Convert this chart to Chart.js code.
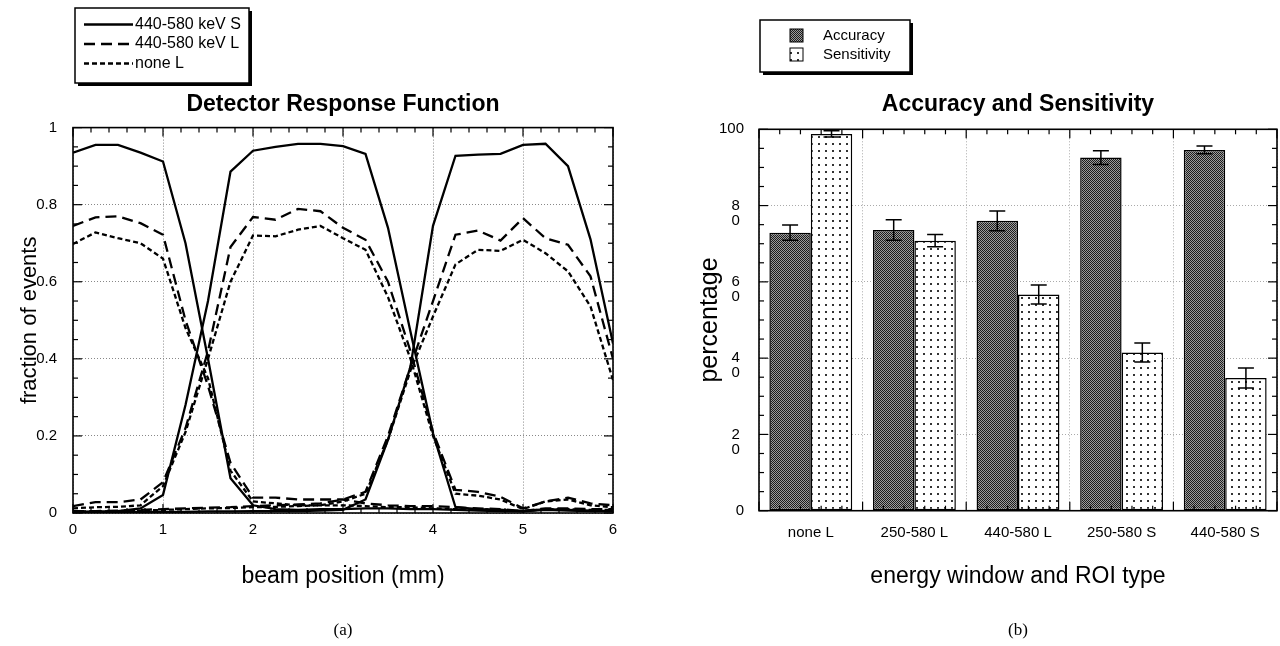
<!DOCTYPE html>
<html>
<head>
<meta charset="utf-8">
<script src="https://cdn.jsdelivr.net/npm/chart.js@4.4.0/dist/chart.umd.min.js"></script>
<style>
  html, body { margin: 0; padding: 0; background: #fff; }
  #wrap { position: relative; width: 1280px; height: 646px; }
  canvas { position: absolute; top: 0; }
  #drf { left: 0; }
  #acc { left: 640px; }
</style>
</head>
<body>
<div id="wrap">
  <canvas id="drf" width="640" height="646"></canvas>
  <canvas id="acc" width="640" height="646"></canvas>
</div>
<script>
// ---- (a) detector response, one curve per crystal ----
const beamPos = [0, 0.25, 0.5, 0.75, 1, 1.25, 1.5, 1.75, 2, 2.25, 2.5, 2.75, 3, 3.25, 3.5, 3.75, 4, 4.25, 4.5, 4.75, 5, 5.25, 5.5, 5.75, 6]

const s440_1 = [0.935, 0.955, 0.955, 0.935, 0.912, 0.70, 0.40, 0.09, 0.02, 0.01, 0.008, 0.01, 0.01, 0.012, 0.012, 0.01, 0.01, 0.008, 0.006, 0.005, 0.004, 0.008, 0.006, 0.005, 0.005]
const s440_2 = [0.003, 0.004, 0.005, 0.012, 0.047, 0.28, 0.55, 0.886, 0.94, 0.95, 0.958, 0.958, 0.952, 0.932, 0.74, 0.47, 0.207, 0.015, 0.01, 0.008, 0.005, 0.01, 0.008, 0.006, 0.005]
const s440_3 = [0.002, 0.002, 0.003, 0.003, 0.003, 0.003, 0.004, 0.004, 0.005, 0.005, 0.005, 0.006, 0.008, 0.035, 0.19, 0.38, 0.745, 0.927, 0.93, 0.932, 0.955, 0.958, 0.90, 0.71, 0.44]

const l440_1 = [0.745, 0.767, 0.77, 0.752, 0.722, 0.50, 0.33, 0.13, 0.04, 0.04, 0.035, 0.035, 0.035, 0.025, 0.02, 0.018, 0.018, 0.015, 0.012, 0.01, 0.005, 0.012, 0.012, 0.01, 0.01]
const l440_2 = [0.018, 0.028, 0.028, 0.035, 0.08, 0.22, 0.42, 0.69, 0.768, 0.761, 0.789, 0.783, 0.74, 0.709, 0.60, 0.42, 0.21, 0.06, 0.055, 0.042, 0.012, 0.03, 0.04, 0.025, 0.02]
const l440_3 = [0.005, 0.005, 0.006, 0.008, 0.01, 0.012, 0.014, 0.015, 0.018, 0.02, 0.022, 0.025, 0.035, 0.055, 0.20, 0.38, 0.55, 0.722, 0.733, 0.707, 0.765, 0.713, 0.696, 0.614, 0.40]

const noneL_1 = [0.698, 0.728, 0.713, 0.70, 0.66, 0.48, 0.35, 0.11, 0.03, 0.025, 0.02, 0.02, 0.02, 0.018, 0.015, 0.015, 0.012, 0.01, 0.01, 0.008, 0.005, 0.01, 0.01, 0.008, 0.008]
const noneL_2 = [0.012, 0.015, 0.016, 0.02, 0.07, 0.21, 0.40, 0.60, 0.72, 0.718, 0.735, 0.745, 0.713, 0.683, 0.56, 0.40, 0.20, 0.05, 0.045, 0.035, 0.01, 0.03, 0.035, 0.02, 0.015]
const noneL_3 = [0.004, 0.004, 0.005, 0.006, 0.008, 0.01, 0.012, 0.013, 0.015, 0.016, 0.018, 0.02, 0.03, 0.05, 0.19, 0.37, 0.51, 0.645, 0.683, 0.68, 0.709, 0.674, 0.627, 0.536, 0.345]

// ---- (b) accuracy / sensitivity per energy window + ROI ----
const roiTypes = ['none L', '250-580 L', '440-580 L', '250-580 S', '440-580 S']
const accuracy = [72.9, 73.6, 76.0, 92.6, 94.6]
const accuracyErr = [2.0, 2.7, 2.6, 1.8, 1.0]
const sensitivity = [98.8, 70.8, 56.7, 41.5, 34.8]
const sensitivityErr = [0.8, 1.6, 2.5, 2.5, 2.6]

Chart.defaults.font.family = '"Liberation Sans", Arial, sans-serif'
Chart.defaults.color = '#000'

// inward tick marks on all four sides + the plot frame (gnuplot look)
const frameTicks = {
  id: 'frameTicks',
  afterDraw(chart, args, opts) {
    const { ctx, chartArea: a, scales } = chart
    const line = (x1, y1, x2, y2) => { ctx.beginPath(); ctx.moveTo(x1, y1); ctx.lineTo(x2, y2); ctx.stroke() }
    ctx.save()
    ctx.strokeStyle = '#000'
    ctx.lineWidth = 1.2
    const tx = opts.x, ty = opts.y
    for (let i = 0; i <= Math.round((tx.to - tx.from) / tx.step); i++) {
      const px = scales.x.getPixelForValue(tx.from + i * tx.step)
      const len = i % tx.major === 0 ? opts.majorLen : opts.minorLen
      line(px, a.bottom, px, a.bottom - len)
      line(px, a.top, px, a.top + len)
    }
    for (let i = 0; i <= Math.round((ty.to - ty.from) / ty.step); i++) {
      const py = scales.y.getPixelForValue(ty.from + i * ty.step)
      const len = i % ty.major === 0 ? opts.majorLen : opts.minorLen
      line(a.left, py, a.left + len, py)
      line(a.right, py, a.right - len, py)
    }
    ctx.lineWidth = 1.6
    ctx.strokeRect(a.left, a.top, a.right - a.left, a.bottom - a.top)
    ctx.restore()
  }
}

// boxed legend with drop shadow, items stacked vertically
const boxLegend = {
  id: 'boxLegend',
  afterDraw(chart, args, o) {
    const { ctx } = chart
    ctx.save()
    ctx.fillStyle = '#000'
    ctx.fillRect(o.x + 3, o.y + 3, o.w, o.h)
    ctx.fillStyle = '#fff'
    ctx.fillRect(o.x, o.y, o.w, o.h)
    ctx.strokeStyle = '#000'
    ctx.lineWidth = 1.5
    ctx.strokeRect(o.x, o.y, o.w, o.h)
    ctx.font = o.font
    ctx.textBaseline = 'middle'
    o.items.forEach((di, i) => {
      const ds = chart.data.datasets[di]
      const cy = o.y + o.firstRow + i * o.rowH
      if (o.kind === 'line') {
        ctx.setLineDash(ds.borderDash || [])
        ctx.lineWidth = ds.borderWidth
        ctx.beginPath()
        ctx.moveTo(o.x + o.sampleX, cy)
        ctx.lineTo(o.x + o.sampleX + o.sampleW, cy)
        ctx.stroke()
        ctx.setLineDash([])
      } else {
        ctx.fillStyle = ds.backgroundColor
        ctx.fillRect(o.x + o.sampleX, cy - 6.5, 13, 13)
        ctx.lineWidth = 1
        ctx.strokeRect(o.x + o.sampleX, cy - 6.5, 13, 13)
      }
      ctx.fillStyle = '#000'
      ctx.fillText(ds.label, o.x + o.textX, cy)
    })
    ctx.restore()
  }
}

const errorBars = {
  id: 'errorBars',
  afterDatasetsDraw(chart, args, o) {
    const { ctx, scales: { y } } = chart
    ctx.save()
    ctx.strokeStyle = '#000'
    ctx.lineWidth = 1.5
    chart.data.datasets.forEach((ds, di) => {
      if (!ds.errors) return
      chart.getDatasetMeta(di).data.forEach((bar, j) => {
        const top = y.getPixelForValue(ds.data[j] + ds.errors[j])
        const bot = y.getPixelForValue(ds.data[j] - ds.errors[j])
        const h = o.cap / 2
        ctx.beginPath()
        ctx.moveTo(bar.x, top); ctx.lineTo(bar.x, bot)
        ctx.moveTo(bar.x - h, top); ctx.lineTo(bar.x + h, top)
        ctx.moveTo(bar.x - h, bot); ctx.lineTo(bar.x + h, bot)
        ctx.stroke()
      })
    })
    ctx.restore()
  }
}

function makePattern(size, draw) {
  const c = document.createElement('canvas')
  c.width = c.height = size
  const g = c.getContext('2d')
  draw(g)
  return g.createPattern(c, 'repeat')
}
const checker = makePattern(2, g => {
  g.fillStyle = '#9c9c9c'; g.fillRect(0, 0, 2, 2)
  g.fillStyle = '#1c1c1c'; g.fillRect(0, 0, 1, 1); g.fillRect(1, 1, 1, 1)
})
const dots = makePattern(7, g => {
  g.fillStyle = '#fff'; g.fillRect(0, 0, 7, 7)
  g.fillStyle = '#333'; g.fillRect(3, 3, 2, 2)
})

const curve = (label, data, dash) => ({
  label, data, borderColor: '#000', borderWidth: 2.3, borderDash: dash,
  pointRadius: 0, tension: 0, fill: false
})
const solid = [], longDash = [11, 6], shortDash = [5, 3]

new Chart(document.getElementById('drf'), {
  type: 'line',
  data: {
    labels: beamPos,
    datasets: [
      curve('440-580 keV S', s440_1, solid),
      curve('440-580 keV S', s440_2, solid),
      curve('440-580 keV S', s440_3, solid),
      curve('440-580 keV L', l440_1, longDash),
      curve('440-580 keV L', l440_2, longDash),
      curve('440-580 keV L', l440_3, longDash),
      curve('none L', noneL_1, shortDash),
      curve('none L', noneL_2, shortDash),
      curve('none L', noneL_3, shortDash)
    ]
  },
  options: {
    responsive: false,
    animation: false,
    devicePixelRatio: 1,
    layout: { padding: { top: 91, right: 27, bottom: 5, left: 0 } },
    plugins: {
      legend: { display: false },
      tooltip: { enabled: false },
      title: { display: true, fullSize: false, text: 'Detector Response Function', font: { size: 23, weight: 'bold' }, padding: { top: 0, bottom: 9 } },
      subtitle: { display: true, fullSize: false, position: 'bottom', text: '(a)', font: { family: '"Liberation Serif", serif', size: 17 }, padding: 0 },
      boxLegend: { x: 75, y: 8, w: 174, h: 75, firstRow: 16.5, rowH: 19.5, sampleX: 9, sampleW: 49, textX: 60, font: '16px "Liberation Sans", Arial, sans-serif', kind: 'line', items: [0, 3, 6] },
      frameTicks: { x: { from: 0, to: 6, step: 0.2, major: 5 }, y: { from: 0, to: 1, step: 0.05, major: 4 }, majorLen: 9, minorLen: 5 }
    },
    scales: {
      x: {
        type: 'linear', min: 0, max: 6,
        ticks: { stepSize: 1, padding: 8, font: { size: 15 } },
        grid: { drawTicks: false, color: '#888', lineWidth: 1 },
        border: { display: false, dash: [1, 2] },
        title: { display: true, text: 'beam position (mm)', font: { size: 23 }, padding: { top: 0, bottom: 29.8 } },
        afterFit: s => { s.height = 107.6 }
      },
      y: {
        min: 0, max: 1,
        ticks: { stepSize: 0.2, padding: 16, font: { size: 15 }, callback: v => String(+v.toFixed(2)) },
        grid: { drawTicks: false, color: '#888', lineWidth: 1 },
        border: { display: false, dash: [1, 2] },
        title: { display: true, text: 'fraction of events', font: { size: 22 }, padding: { top: 17, bottom: 0 } },
        afterFit: s => { s.width = 73 }
      }
    }
  },
  plugins: [frameTicks, boxLegend]
})

new Chart(document.getElementById('acc'), {
  type: 'bar',
  data: {
    labels: roiTypes,
    datasets: [
      { label: 'Accuracy', data: accuracy, errors: accuracyErr, backgroundColor: checker, borderColor: '#000', borderWidth: 1.5, borderSkipped: false, categoryPercentage: 0.8, barPercentage: 1.0 },
      { label: 'Sensitivity', data: sensitivity, errors: sensitivityErr, backgroundColor: dots, borderColor: '#000', borderWidth: 1.5, borderSkipped: false, categoryPercentage: 0.8, barPercentage: 1.0 }
    ]
  },
  options: {
    responsive: false,
    animation: false,
    devicePixelRatio: 1,
    layout: { padding: { top: 90.7, right: 3, bottom: 5, left: 0 } },
    plugins: {
      legend: { display: false },
      tooltip: { enabled: false },
      title: { display: true, fullSize: false, text: 'Accuracy and Sensitivity', font: { size: 23, weight: 'bold' }, padding: { top: 0, bottom: 11 } },
      subtitle: { display: true, fullSize: false, position: 'bottom', text: '(b)', font: { family: '"Liberation Serif", serif', size: 17 }, padding: 0 },
      boxLegend: { x: 120, y: 20, w: 150, h: 52, firstRow: 15.5, rowH: 19, sampleX: 30, textX: 63, font: '15px "Liberation Sans", Arial, sans-serif', kind: 'box', items: [0, 1] },
      errorBars: { cap: 16 },
      frameTicks: { x: { from: -0.5, to: 4.5, step: 0.2, major: 5 }, y: { from: 0, to: 100, step: 5, major: 4 }, majorLen: 9, minorLen: 5 }
    },
    scales: {
      x: {
        ticks: { padding: 13, font: { size: 15 }, maxRotation: 0 },
        grid: { drawTicks: false, color: '#aaa', lineWidth: 1 },
        border: { display: false, dash: [1, 2] },
        title: { display: true, text: 'energy window and ROI type', font: { size: 23 }, padding: { top: 0, bottom: 29.8 } },
        afterFit: s => { s.height = 109.9 }
      },
      y: {
        min: 0, max: 100,
        ticks: {
          stepSize: 20, padding: 15, labelOffset: 7.5, font: { size: 15, lineHeight: 1 },
          callback: v => v === 100 || v === 0 ? [String(v), ''] : String(v).split('').map(c => c + ' ')
        },
        grid: { drawTicks: false, color: '#aaa', lineWidth: 1 },
        border: { display: false, dash: [1, 2] },
        title: { display: true, text: 'percentage', font: { size: 25 }, padding: { top: 55, bottom: 0 } },
        afterFit: s => { s.width = 119 }
      }
    }
  },
  plugins: [frameTicks, boxLegend, errorBars]
})
</script>
</body>
</html>
